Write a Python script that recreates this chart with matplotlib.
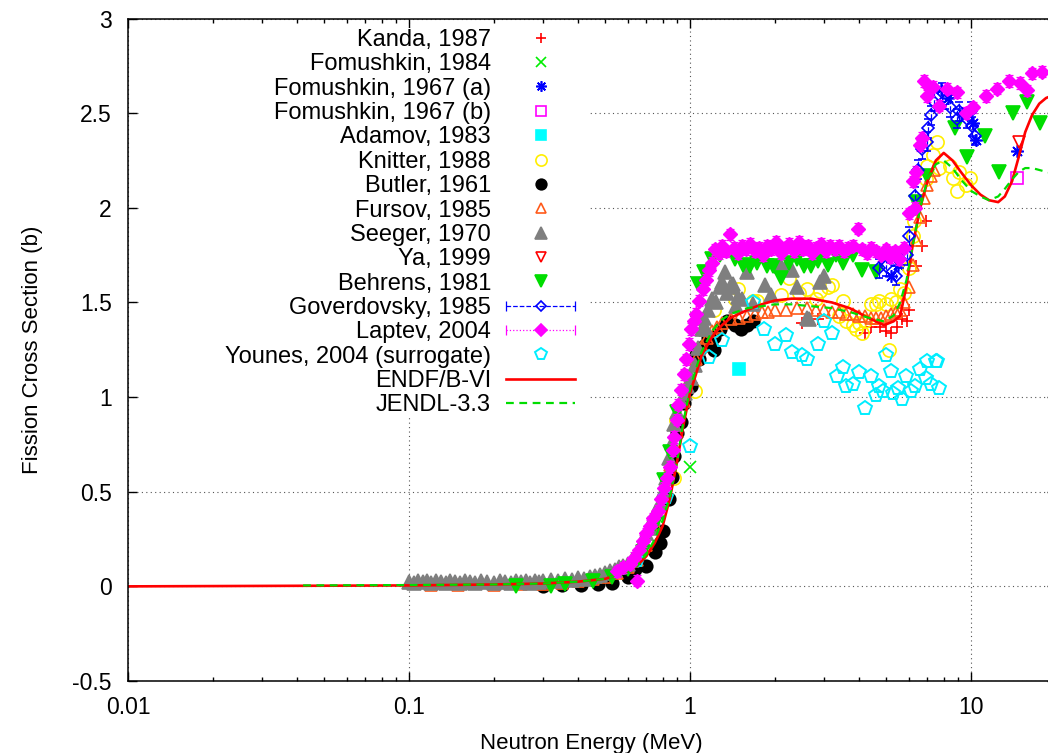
import numpy as np
import matplotlib
matplotlib.use('Agg')
import matplotlib.pyplot as plt
from matplotlib.lines import Line2D
from matplotlib.patches import Rectangle
from matplotlib.collections import LineCollection
from matplotlib.container import ErrorbarContainer
from matplotlib.legend_handler import HandlerErrorbar
from matplotlib.ticker import FixedLocator, LogLocator, NullFormatter

plt.rcParams['font.family'] = ['Liberation Sans', 'DejaVu Sans']

# ---- measured fission cross sections (energy in MeV, sigma in b) ----
kanda_e  = [2.5, 2.85, 4.2, 4.4, 4.75, 5.0, 5.2, 5.45, 5.7, 5.9, 6.0, 6.4, 6.7, 6.9]
kanda_xs = [1.39, 1.41, 1.34, 1.37, 1.37, 1.35, 1.34, 1.37, 1.41, 1.40, 1.46, 1.69, 1.80, 1.93]

fom84_e  = [1.0]
fom84_xs = [0.63]

fom67a_e  = [5.2, 5.5, 7.8, 8.3, 9.3, 10.2, 10.4, 14.6]
fom67a_xs = [1.64, 1.70, 2.63, 2.58, 2.50, 2.45, 2.36, 2.30]

fom67b_e  = [14.6]
fom67b_xs = [2.16]

adamov_e  = [1.49]
adamov_xs = [1.15]

knitter_e  = [0.88, 0.89, 1.04, 1.22, 1.45, 1.48, 1.67, 1.73, 2.1, 2.25, 2.45, 2.6, 2.8, 2.9,
              3.1, 3.2, 3.4, 3.5, 3.6, 3.8, 3.9, 4.0, 4.1, 4.2, 4.4, 4.6, 4.7, 5.0, 5.1, 5.2,
              5.4, 5.6, 5.8, 6.0, 6.2, 6.25, 6.9, 7.0, 7.3, 7.6, 7.7, 8.4, 8.6, 8.9, 9.1, 9.6, 9.9]
knitter_xs = [0.57, 0.88, 1.03, 1.46, 1.52, 1.57, 1.51, 1.51, 1.54, 1.63, 1.55, 1.57, 1.52, 1.56,
              1.58, 1.59, 1.43, 1.51, 1.40, 1.38, 1.36, 1.39, 1.34, 1.40, 1.49, 1.49, 1.51, 1.49, 1.25, 1.52,
              1.50, 1.57, 1.55, 1.68, 1.85, 1.93, 2.15, 2.22, 2.28, 2.35, 2.21, 2.22, 2.16, 2.09, 2.19, 2.12, 2.16]

butler_e  = [0.30, 0.35, 0.41, 0.47, 0.53, 0.60, 0.64, 0.70, 0.75, 0.78, 0.80, 0.84, 0.86, 0.88,
             0.90, 0.93, 0.95, 0.98, 1.01, 1.05, 1.08, 1.08, 1.12, 1.16, 1.22, 1.22, 1.28, 1.35,
             1.45, 1.52, 1.60, 1.67]
butler_xs = [0.00, 0.005, 0.005, 0.01, 0.02, 0.05, 0.09, 0.11, 0.18, 0.23, 0.29, 0.46, 0.58, 0.69,
             0.81, 0.87, 0.97, 1.04, 1.06, 1.22, 1.20, 1.25, 1.27, 1.31, 1.25, 1.32, 1.36, 1.40,
             1.38, 1.36, 1.38, 1.40]

fursov_e  = [0.12, 0.15, 0.2, 0.25, 0.3, 0.35, 0.4, 0.45, 0.5, 0.55, 0.6, 0.65, 0.7, 0.75, 0.8,
             0.85, 0.9, 0.95, 1.0, 1.05, 1.1, 1.15, 1.2, 1.25, 1.3, 1.4, 1.5, 1.6, 1.7, 1.8, 1.9,
             2.0, 2.2, 2.4, 2.6, 2.8, 3.0, 3.2, 3.4, 3.6, 3.8, 4.0, 4.2, 4.4, 4.6, 4.8, 5.0, 5.2,
             5.4, 5.6, 5.8, 6.0, 6.2, 6.4, 6.6, 6.8, 7.0, 7.2, 7.4]
fursov_xs = [0.005, 0.005, 0.008, 0.01, 0.015, 0.02, 0.03, 0.04, 0.05, 0.07, 0.10, 0.14, 0.22, 0.33, 0.47,
             0.64, 0.82, 0.98, 1.10, 1.20, 1.27, 1.31, 1.35, 1.37, 1.39, 1.41, 1.42, 1.43, 1.44, 1.45, 1.45,
             1.46, 1.46, 1.47, 1.47, 1.46, 1.46, 1.45, 1.45, 1.44, 1.44, 1.43, 1.43, 1.42, 1.42, 1.42, 1.43, 1.44,
             1.45, 1.46, 1.50, 1.58, 1.70, 1.83, 1.95, 2.05, 2.12, 2.17, 2.20]

seeger_e  = [0.100, 0.104, 0.108, 0.112, 0.116, 0.12, 0.125, 0.13, 0.135, 0.14, 0.146, 0.152, 0.158,
             0.165, 0.172, 0.18, 0.19, 0.20, 0.21, 0.22, 0.23, 0.24, 0.25, 0.26, 0.27, 0.28, 0.29,
             0.30, 0.32, 0.34, 0.36, 0.38, 0.40, 0.42, 0.44, 0.46, 0.48, 0.50, 0.52, 0.54, 0.56,
             0.58, 0.60, 0.62, 0.64, 0.66, 0.68, 0.70, 0.72, 0.74, 0.76, 0.78, 0.80, 0.82, 0.84,
             0.86, 0.88, 0.90, 0.93, 0.96, 0.98, 1.01, 1.04, 1.07, 1.10, 1.12, 1.14, 1.16, 1.20,
             1.24, 1.28, 1.30, 1.33, 1.36, 1.39, 1.42, 1.46, 1.48, 1.53, 1.60, 1.68, 1.85, 1.95,
             2.10, 2.20, 2.30, 2.40, 2.60, 2.65, 2.90, 3.00]
seeger_xs = [0.025, 0.02, 0.03, 0.022, 0.028, 0.02, 0.03, 0.025, 0.02, 0.03, 0.025, 0.02, 0.03,
             0.025, 0.02, 0.03, 0.025, 0.02, 0.03, 0.025, 0.02, 0.03, 0.025, 0.03, 0.02, 0.03, 0.025,
             0.03, 0.035, 0.03, 0.04, 0.035, 0.045, 0.04, 0.05, 0.055, 0.06, 0.07, 0.08, 0.085, 0.10,
             0.11, 0.12, 0.14, 0.16, 0.20, 0.24, 0.28, 0.31, 0.36, 0.40, 0.44, 0.50, 0.57, 0.68,
             0.76, 0.86, 0.92, 0.98, 1.02, 1.06, 1.10, 1.17, 1.26, 1.36, 1.42, 1.36, 1.46, 1.52,
             1.50, 1.58, 1.61, 1.66, 1.55, 1.58, 1.60, 1.48, 1.53, 1.52, 1.66, 1.49, 1.59, 1.54,
             1.69, 1.69, 1.67, 1.58, 1.42, 1.41, 1.61, 1.64]

ya_e  = [14.8]
ya_xs = [2.35]

behrens_e  = [0.24, 0.32, 0.36, 0.45, 0.53, 0.60, 0.68, 0.75, 0.81, 0.85, 0.90, 1.07, 1.12,
              1.20, 1.28, 1.45, 1.55, 1.64, 1.73, 1.88, 1.97, 2.10, 2.25, 2.40, 2.55, 2.70, 2.85,
              3.10, 3.30, 3.50, 3.80, 4.10, 4.60, 6.4, 7.0, 8.8, 9.7, 11.2, 12.6, 14.1, 15.8, 17.6]
behrens_xs = [0.0, 0.0, 0.01, 0.03, 0.05, 0.09, 0.18, 0.33, 0.56, 0.71, 0.92, 1.60, 1.66,
              1.73, 1.75, 1.73, 1.70, 1.69, 1.71, 1.69, 1.69, 1.63, 1.71, 1.73, 1.69, 1.69, 1.72,
              1.70, 1.75, 1.71, 1.75, 1.67, 1.66, 2.03, 2.17, 2.42, 2.27, 2.38, 2.19, 2.50, 2.56, 2.45]

gover_e  = [4.7, 5.0, 5.4, 5.6, 5.9, 6.0, 6.3, 6.5, 6.7, 7.0, 7.05, 7.2, 7.4, 7.9, 8.1, 8.4,
            8.9, 9.1, 9.7, 10.0, 10.1, 10.3]
gover_xs = [1.68, 1.69, 1.64, 1.73, 1.75, 1.85, 2.06, 2.20, 2.31, 2.35, 2.42, 2.49, 2.56, 2.61, 2.57, 2.53,
            2.47, 2.51, 2.47, 2.51, 2.43, 2.38]
gover_err = 0.05

laptev_e  = [0.55, 0.58, 0.61, 0.63, 0.65, 0.66, 0.68, 0.70, 0.72, 0.74, 0.77, 0.79, 0.81, 0.83,
             0.85, 0.87, 0.88, 0.90, 0.91, 0.93, 0.95, 0.97, 0.99, 1.01, 1.03, 1.05, 1.08, 1.11,
             1.14, 1.17, 1.20, 1.23, 1.27, 1.30, 1.34, 1.39, 1.43, 1.48, 1.53, 1.58, 1.64, 1.70,
             1.76, 1.82, 1.88, 1.95, 2.02, 2.10, 2.18, 2.26, 2.35, 2.44, 2.53, 2.62, 2.72, 2.82,
             2.93, 3.04, 3.15, 3.27, 3.40, 3.53, 3.66, 3.80, 3.95, 4.10, 4.26, 4.42, 4.60, 4.78,
             4.97, 5.16, 5.36, 5.56, 5.78, 6.0, 6.22, 6.3, 6.4, 6.6, 6.7, 6.8, 7.0, 7.1, 7.3,
             7.7, 8.2, 8.9, 9.6, 10.2, 11.3, 12.4, 13.7, 15.0, 15.8, 16.5, 17.9]
laptev_xs = [0.08, 0.10, 0.12, 0.15, 0.03, 0.19, 0.24, 0.28, 0.32, 0.36, 0.40, 0.46, 0.52, 0.57,
             0.63, 0.72, 0.79, 0.88, 0.96, 1.04, 1.12, 1.20, 1.28, 1.36, 1.40, 1.44, 1.51, 1.57,
             1.62, 1.67, 1.71, 1.78, 1.76, 1.80, 1.77, 1.86, 1.79, 1.76, 1.80, 1.78, 1.81, 1.77,
             1.79, 1.75, 1.80, 1.78, 1.82, 1.76, 1.79, 1.81, 1.77, 1.82, 1.78, 1.80, 1.76, 1.79,
             1.81, 1.77, 1.80, 1.78, 1.80, 1.77, 1.79, 1.80, 1.89, 1.78, 1.76, 1.79, 1.77, 1.75,
             1.78, 1.74, 1.77, 1.73, 1.79, 1.97, 2.14, 2.00, 2.19, 2.33, 2.37, 2.67, 2.59, 2.64, 2.64,
             2.54, 2.63, 2.61, 2.50, 2.53, 2.59, 2.63, 2.67, 2.66, 2.62, 2.71, 2.72]
laptev_err = 0.03

younes_e  = [0.65, 0.82, 1.0, 1.17, 1.3, 1.67, 1.83, 2.0, 2.2, 2.3, 2.5, 2.6, 2.85, 3.0, 3.2,
             3.35, 3.5, 3.6, 3.8, 4.0, 4.2, 4.4, 4.6, 4.7, 4.85, 5.0, 5.2, 5.3, 5.5, 5.7, 5.85,
             6.1, 6.3, 6.6, 6.9, 7.0, 7.2, 7.5, 7.6, 7.7]
younes_xs = [0.14, 0.47, 0.74, 1.21, 1.30, 1.50, 1.36, 1.28, 1.33, 1.24, 1.22, 1.20, 1.28, 1.40, 1.34,
             1.11, 1.16, 1.06, 1.07, 1.13, 0.94, 1.11, 1.01, 1.06, 1.03, 1.22, 1.14, 1.02, 1.05, 0.99, 1.11,
             1.03, 1.06, 1.15, 1.10, 1.19, 1.07, 1.19, 1.19, 1.05]

# ---- evaluated data ----
endf_e  = [0.01, 0.1, 0.2, 0.3, 0.4, 0.5, 0.6, 0.65, 0.7, 0.75, 0.8, 0.85, 0.9, 0.95, 1.0,
           1.05, 1.1, 1.2, 1.3, 1.4, 1.6, 1.8, 2.0, 2.3, 2.7, 3.2, 3.7, 4.3, 4.9, 5.3, 5.6,
           5.9, 6.2, 6.6, 7.0, 7.5, 8.0, 8.6, 9.2, 10.0, 10.8, 11.6, 12.5, 13.2, 14.0, 14.8,
           15.6, 16.5, 17.5, 18.5, 20.0]
endf_xs = [0.0, 0.005, 0.01, 0.015, 0.025, 0.04, 0.08, 0.11, 0.16, 0.23, 0.32, 0.47, 0.66, 0.86, 1.02,
           1.12, 1.22, 1.32, 1.38, 1.42, 1.46, 1.49, 1.51, 1.52, 1.52, 1.50, 1.47, 1.42, 1.38, 1.40, 1.43,
           1.59, 1.80, 2.00, 2.14, 2.25, 2.29, 2.25, 2.19, 2.12, 2.07, 2.04, 2.03, 2.06, 2.14, 2.27,
           2.40, 2.49, 2.55, 2.58, 2.60]

jendl_e  = [0.042, 0.1, 0.2, 0.3, 0.4, 0.5, 0.6, 0.65, 0.7, 0.75, 0.8, 0.85, 0.9, 0.95, 1.0,
            1.05, 1.1, 1.2, 1.3, 1.4, 1.6, 1.8, 2.0, 2.3, 2.7, 3.2, 3.7, 4.3, 4.9, 5.3, 5.6,
            5.9, 6.2, 6.6, 7.0, 7.5, 8.0, 8.6, 9.2, 10.0, 10.8, 11.6, 12.5, 13.2, 14.0, 14.8,
            15.6, 16.5, 17.5, 18.5, 20.0]
jendl_xs = [0.005, 0.007, 0.01, 0.015, 0.025, 0.04, 0.08, 0.11, 0.17, 0.25, 0.35, 0.48, 0.66, 0.88, 1.04,
            1.15, 1.24, 1.35, 1.41, 1.44, 1.47, 1.48, 1.49, 1.49, 1.48, 1.47, 1.45, 1.42, 1.40, 1.43, 1.50,
            1.62, 1.80, 2.00, 2.15, 2.23, 2.25, 2.21, 2.15, 2.09, 2.06, 2.04, 2.06, 2.10, 2.15, 2.19,
            2.21, 2.21, 2.20, 2.19, 2.18]

x_ticks = [0.01, 0.1, 1, 10]
x_ticklabels = ['0.01', '0.1', '1', '10']
y_ticks = [-0.5, 0, 0.5, 1, 1.5, 2, 2.5, 3]
y_ticklabels = ['-0.5', '0', '0.5', '1', '1.5', '2', '2.5', '3']

fig = plt.figure(figsize=(10.48, 7.53), dpi=100)
ax = fig.add_axes([0.1221, 0.0956, 0.8851, 0.8798])
ax.set_xscale('log')
ax.set_xlim(0.01, 20)
ax.set_ylim(-0.5, 3)
ax.set_axisbelow(True)

mk = dict(ls='none', mew=1.2)
h_kanda, = ax.plot(kanda_e, kanda_xs, marker='+', color='#ff0000', ms=9, **mk)
h_fom84, = ax.plot(fom84_e, fom84_xs, marker='x', color='#00ee00', ms=8, **mk)
h_fom67a, = ax.plot(fom67a_e, fom67a_xs, marker=(8, 2, 0), color='#0000ff', ms=9, **mk)
h_fom67b, = ax.plot(fom67b_e, fom67b_xs, marker='s', color='#ff00ff', mfc='none', ms=8.5, **mk)
h_adamov, = ax.plot(adamov_e, adamov_xs, marker='s', color='#00ffff', ms=8.5, **mk)
h_knitter, = ax.plot(knitter_e, knitter_xs, marker='o', color='#ffee00', mfc='none', ms=9.5, **mk)
h_butler, = ax.plot(butler_e, butler_xs, marker='o', color='black', ms=9, **mk)
h_fursov, = ax.plot(fursov_e, fursov_xs, marker='^', color='#ff5a1a', mfc='none', ms=9, **mk)
h_seeger, = ax.plot(seeger_e, seeger_xs, marker='^', color='#7f7f7f', ms=9.5, **mk)
h_ya, = ax.plot(ya_e, ya_xs, marker='v', color='#ff0000', mfc='none', ms=9, **mk)
h_behrens, = ax.plot(behrens_e, behrens_xs, marker='v', color='#00dd00', ms=9.5, **mk)

eb = ax.errorbar(gover_e, gover_xs, yerr=gover_err, fmt='D', color='#0000ff', mfc='none',
                 ms=6.5, mew=1.2, elinewidth=0.9, capsize=3, capthick=0.9)
eb[2][0].set_linestyle('--')
eb = ax.errorbar(laptev_e, laptev_xs, yerr=laptev_err, fmt='D', color='#ff00ff',
                 ms=7.5, elinewidth=0.9, capsize=3, capthick=0.9)
eb[2][0].set_linestyle(':')

h_younes, = ax.plot(younes_e, younes_xs, marker='p', color='#00eeff', mfc='none', ms=10, ls='none', mew=1.4)

h_endf, = ax.plot(endf_e, endf_xs, color='#ff0000', lw=1.9)
h_jendl, = ax.plot(jendl_e, jendl_xs, color='#00dd00', lw=1.6, ls=(0, (3.5, 2.5)))


def errbar_key(marker, color, mfc, ms, ls):
    # stand-in for the legend: horizontal bar with end caps, gnuplot style
    pl = Line2D([], [], marker=marker, color=color, mfc=mfc, ms=ms, mew=1.2, ls='none')
    cap = Line2D([], [], marker='|', color=color, ms=6.5, mew=0.9)
    bars = LineCollection([], colors=color, linestyles=ls, linewidths=0.9)
    return ErrorbarContainer((pl, (cap, cap), (bars,)), has_xerr=True, has_yerr=False)


h_gover = errbar_key('D', '#0000ff', 'none', 6.5, '--')
h_laptev = errbar_key('D', '#ff00ff', '#ff00ff', 7.5, ':')

handles = [h_kanda, h_fom84, h_fom67a, h_fom67b, h_adamov, h_knitter, h_butler, h_fursov,
           h_seeger, h_ya, h_behrens, h_gover, h_laptev, h_younes, h_endf, h_jendl]
labels = ['Kanda, 1987', 'Fomushkin, 1984', 'Fomushkin, 1967 (a)', 'Fomushkin, 1967 (b)',
          'Adamov, 1983', 'Knitter, 1988', 'Butler, 1961', 'Fursov, 1985', 'Seeger, 1970',
          'Ya, 1999', 'Behrens, 1981', 'Goverdovsky, 1985', 'Laptev, 2004',
          'Younes, 2004 (surrogate)', 'ENDF/B-VI', 'JENDL-3.3']

# blank out the grid behind the key
ax.add_patch(Rectangle((0.014, 0.4015), 0.482, 0.5842, transform=ax.transAxes,
                       facecolor='white', edgecolor='none', zorder=4))

leg = ax.legend(handles, labels, loc='upper right', bbox_to_anchor=(575 / 1048, 1 - 29 / 753),
                bbox_transform=fig.transFigure, frameon=False, markerfirst=False, numpoints=1,
                fontsize=17, labelspacing=0.1, handlelength=2.92, handletextpad=0.64,
                borderpad=0, borderaxespad=0, markerscale=0.85,
                handler_map={ErrorbarContainer: HandlerErrorbar(xerr_size=1.46)})
leg.set_zorder(5)

ax.xaxis.set_major_locator(FixedLocator(x_ticks))
ax.set_xticklabels(x_ticklabels)
ax.xaxis.set_minor_locator(LogLocator(base=10, subs=np.arange(2, 10)))
ax.xaxis.set_minor_formatter(NullFormatter())
ax.set_yticks(y_ticks)
ax.set_yticklabels(y_ticklabels)

ax.tick_params(which='both', direction='in', top=True, right=True, width=1.0, labelsize=16.5)
ax.tick_params(which='major', length=6.5)
ax.tick_params(which='minor', length=3.2)
ax.tick_params(axis='x', pad=11)
ax.tick_params(axis='y', pad=11.5)
for s in ax.spines.values():
    s.set_linewidth(1.1)

ax.grid(True, which='major', color='#555555', lw=0.8, ls=(0, (1, 3)))

ax.set_xlabel('Neutron Energy (MeV)', fontsize=16, labelpad=10)
ax.set_ylabel('Fission Cross Section (b)', fontsize=16, labelpad=21)

fig.savefig('out.png', dpi=100)
